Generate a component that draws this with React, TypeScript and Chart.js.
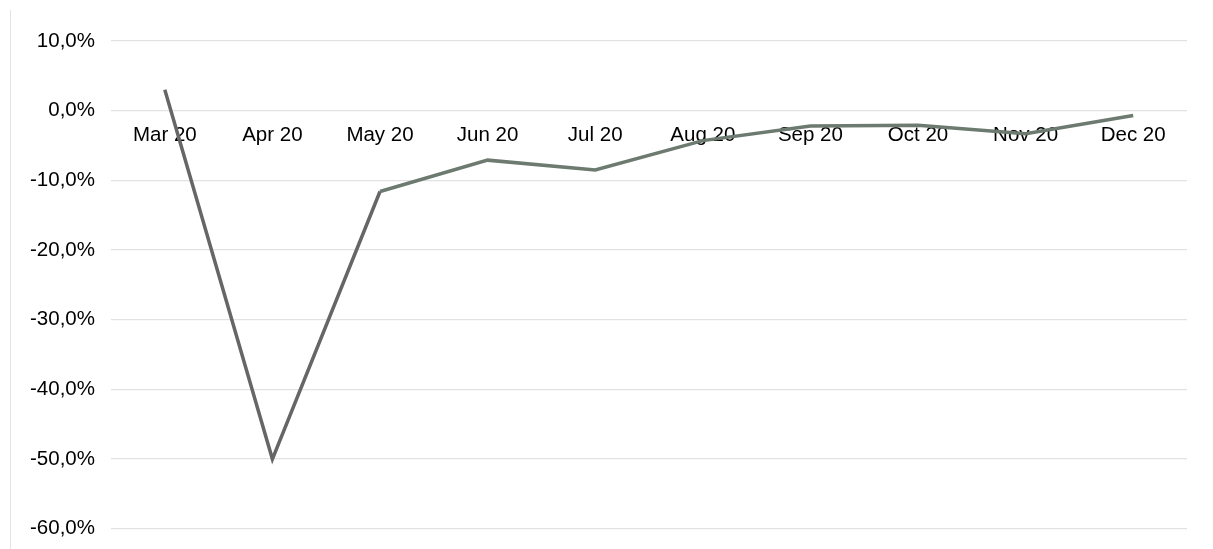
import React, { useEffect, useRef } from "react";
import { Chart, registerables } from "chart.js";

Chart.register(...registerables);

const categories = ["Mar 20", "Apr 20", "May 20", "Jun 20", "Jul 20", "Aug 20", "Sep 20", "Oct 20", "Nov 20", "Dec 20"];
const values = [3.0, -50.0, -11.6, -7.1, -8.5, -4.3, -2.2, -2.1, -3.3, -0.7];
const yMin = -60;
const yMax = 10;
const yStep = 10;

export default function App() {
  const ref = useRef<HTMLCanvasElement>(null);

  useEffect(() => {
    if (!ref.current) return;
    const chart = new Chart(ref.current, {
      type: "line",
      data: {
        labels: categories,
        datasets: [
          {
            data: values,
            borderColor: "#666666",
            borderWidth: 3.5,
            pointRadius: 0,
            tension: 0,
            fill: false,
            segment: {
              borderColor: (ctx: any) => (ctx.p0DataIndex >= 2 ? "#6c7a70" : "#666666"),
            },
          },
        ],
      },
      options: {
        animation: false,
        responsive: false,
        maintainAspectRatio: false,
        layout: { padding: { top: 41, bottom: 21, left: 0, right: 26 } },
        plugins: { legend: { display: false }, tooltip: { enabled: false } },
        scales: {
          x: {
            type: "category",
            position: { y: 0 } as any,
            offset: true,
            grid: { display: false, drawTicks: false },
            border: { display: false },
            ticks: {
              color: "#000",
              padding: 12,
              maxRotation: 0,
              autoSkip: false,
              font: { family: "'Liberation Sans', Arial, sans-serif", size: 20.5 },
            },
          },
          y: {
            min: yMin,
            max: yMax,
            grid: { color: "#e2e2e2", lineWidth: 1.2, drawTicks: false },
            border: { display: false },
            afterFit: (scale: any) => {
              scale.width = 111;
            },
            ticks: {
              stepSize: yStep,
              color: "#000",
              padding: 16,
              font: { family: "'Liberation Sans', Arial, sans-serif", size: 20.5 },
              callback: (v: any) => Number(v).toFixed(1).replace(".", ",") + "%",
            },
          },
        },
      },
    });
    return () => chart.destroy();
  }, []);

  return (
    <div style={{ position: "absolute", left: 0, top: 0, width: 1213, height: 549, background: "#fff", overflow: "hidden" }}>
      <div style={{ position: "absolute", left: 10, top: 10, width: 1, height: 539, background: "#e4e4e4" }} />
      <canvas ref={ref} width={1213} height={557} style={{ position: "absolute", left: 0, top: 0 }} />
    </div>
  );
}
